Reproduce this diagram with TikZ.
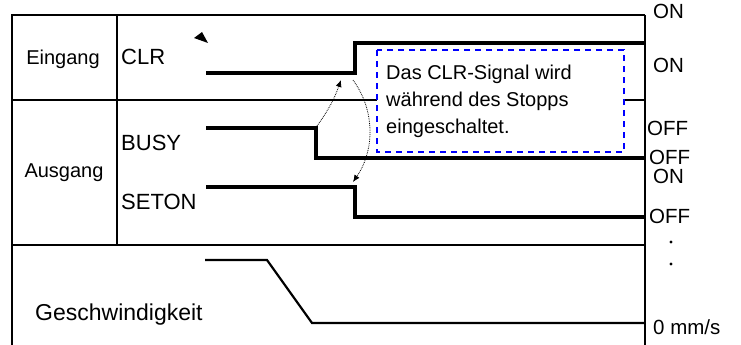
\documentclass[tikz,border=0pt]{standalone}
\usepackage{fontspec}
\setmainfont{Liberation Sans}
\usetikzlibrary{arrows.meta}

\tikzset{
  frame/.style={line width=1.5pt},
  level/.style={line width=4pt, miter limit=2},
  ramp/.style={line width=2.2pt},
  hint/.style={densely dotted, line width=0.8pt, -{Latex[length=7pt,width=6pt]}},
  note/.style={draw=blue, fill=white, line width=1.6pt, dash pattern=on 6pt off 5pt},
  lbl/.style={inner sep=0pt, anchor=base west},
  head/.style={inner sep=0pt, anchor=base},
  sig/.style={lbl, font=\fontsize{22}{26}\selectfont},
  state/.style={lbl, font=\fontsize{20.5}{24}\selectfont}
}

\begin{document}
\begin{tikzpicture}[x=1pt,y=-1pt, font=\fontsize{20}{27}\selectfont]
  \useasboundingbox (0,0) rectangle (741,345);
  %% frame
  \draw[frame] (12,345) -- (12,15) -- (645,15);
  \draw[frame] (117,15) -- (117,245);
  \draw[frame] (12,100) -- (645,100);
  \draw[frame] (12,245) -- (645,245);
  \draw[line width=2.2pt] (645,15) -- (645,345);
  %% row headers
  \node[head] (eingang) at (63,65) {Eingang};
  \node[head] (ausgang) at (64,177) {Ausgang};
  \node[sig] (clr) at (121,65) {CLR};
  \node[sig] (busy) at (121,150) {BUSY};
  \node[sig] (seton) at (121,209) {SETON};
  \node[lbl, font=\fontsize{23}{26}\selectfont] (speed) at (35,320) {Geschwindigkeit};
  %% note box
  \draw[note] (377,50) rectangle (624,152);
  \node[inner sep=0pt, anchor=north west, align=left] (text) at (386,64.5)
    {Das CLR-Signal wird\\während des Stopps\\eingeschaltet.};
  %% CLR: rises
  \draw[level] (206,73) -- (355,73) -- (355,43) -- (645,43);
  %% BUSY: falls
  \draw[level] (206,128) -- (316,128) -- (316,158) -- (645,158);
  %% SETON: falls
  \draw[level] (206,187) -- (355,187) -- (355,217) -- (645,217);
  %% speed ramp
  \draw[ramp] (205,260) -- (267,260) -- (312,323) -- (645,323);
  \fill (194,38) -- (202,32) -- (208,43) -- cycle;
  %% dotted hints
  \coordinate (busyfall) at (317,126);
  \coordinate (clrrise) at (341,80);
  \coordinate (clrtop) at (353,80);
  \coordinate (setonfall) at (353,182);
  \draw[hint] (busyfall) to[bend right=8] (clrrise);
  \draw[hint] (clrtop) .. controls (375,110) and (375,150) .. (setonfall);
  %% state labels
  \node[state] (on1) at (653,19) {ON};
  \node[state] (on2) at (653,72) {ON};
  \node[state] (off1) at (647,135) {OFF};
  \node[state] (off2) at (649,164) {OFF};
  \node[state] (on3) at (653,183) {ON};
  \node[state] (off3) at (649,223) {OFF};
  \fill (671,242) circle (1.6pt) coordinate (dot1);
  \fill (671,264) circle (1.6pt) coordinate (dot2);
  \node[state] (zero) at (653,334) {0 mm/s};
\end{tikzpicture}
\end{document}
